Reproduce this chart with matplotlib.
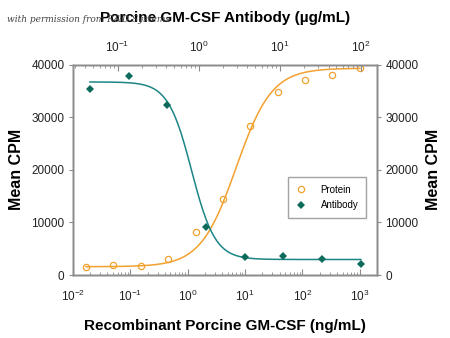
import numpy as np
import matplotlib
matplotlib.use("Agg")
import matplotlib.pyplot as plt

plt.rcParams['font.family'] = ['Liberation Sans Narrow', 'Liberation Sans', 'DejaVu Sans']

# data
protein_conc = [0.0169, 0.0508, 0.152, 0.457, 1.37, 4.12, 12.3, 37.0, 111, 333, 1000]  # ng/mL
protein_cpm = [1570, 1960, 1770, 3030, 8150, 14540, 28300, 34880, 37100, 38040, 39370]

antibody_conc = [0.0457, 0.137, 0.41, 1.23, 3.7, 11.1, 33.3, 100]  # ug/mL
antibody_cpm = [35390, 37910, 32230, 9160, 3470, 3600, 3090, 2030]

# fitted 4PL curves: bottom, top, mid, hill
protein_fit = (1600, 39300, 7.0, 1.4)
antibody_fit = (2970, 36700, 0.82, -3.0)

orange = '#f2a12e'
teal_pt = '#0d6b5c'
teal_ln = '#1c8585'
grey = '#8c8c8c'


def four_pl(x, p):
    bottom, top, mid, hill = p
    return bottom + (top - bottom) / (1 + (mid / x) ** hill)


fig = plt.figure(figsize=(4.5, 3.38), dpi=100)
ax = fig.add_axes([0.162, 0.186, 0.676, 0.623])

# protein on the bottom axis
ax.set_xscale('log')
ax.set_xlim(0.01, 10 ** 3.3)
ax.set_ylim(0, 40000)
xs = np.logspace(np.log10(protein_conc[0]), np.log10(protein_conc[-1]), 200)
ax.plot(xs, four_pl(xs, protein_fit), color=orange, lw=1.1, zorder=2)
ax.plot(protein_conc, protein_cpm, 'o', mfc='none', mec=orange, ms=4.5,
        mew=0.9, label='Protein', zorder=3)

# antibody on the top axis
ax2 = ax.twiny()
ax2.set_xscale('log')
ax2.set_xlim(10 ** -1.55, 10 ** 2.2)
xa = np.logspace(np.log10(antibody_conc[0]), np.log10(antibody_conc[-1]), 200)
ax2.plot(xa, four_pl(xa, antibody_fit), color=teal_ln, lw=1.1, zorder=2)
ax2.plot(antibody_conc, antibody_cpm, 'D', color=teal_pt, ms=4, mew=0,
         label='Antibody', zorder=3)

# right y axis, same scale
ax3 = ax.twinx()
ax3.set_ylim(0, 40000)

yt = [0, 10000, 20000, 30000, 40000]
ax.set_yticks(yt)
ax3.set_yticks(yt)

for a in (ax, ax2, ax3):
    for s in a.spines.values():
        s.set_color(grey)
        s.set_linewidth(1.0)

for a, p in ((ax, 10), (ax2, 7)):
    a.tick_params(axis='x', which='both', direction='in', colors=grey,
                  labelcolor='#222222', labelsize=8.5, pad=p)
    a.tick_params(axis='x', which='major', length=4)
    a.tick_params(axis='x', which='minor', length=2.5)
for a in (ax, ax3):
    a.tick_params(axis='y', direction='out', length=3, colors=grey,
                  labelcolor='#222222', labelsize=8.5, pad=3)

ax.set_xlabel('Recombinant Porcine GM-CSF (ng/mL)', fontsize=11, fontweight='bold',
              labelpad=11)
ax2.set_xlabel('Porcine GM-CSF Antibody (\u00b5g/mL)', fontsize=11, fontweight='bold',
               labelpad=13)
ax.set_ylabel('Mean CPM', fontsize=11.5, fontweight='bold', labelpad=5)
ax3.set_ylabel('Mean CPM', fontsize=11.5, fontweight='bold', labelpad=5)

# one legend for both series
h1, l1 = ax.get_legend_handles_labels()
h2, l2 = ax2.get_legend_handles_labels()
leg = ax2.legend(h1 + h2, l1 + l2, loc='upper left', bbox_to_anchor=(0.69, 0.49),
                 frameon=True, fancybox=False, fontsize=7, handlelength=1.2,
                 handletextpad=1.4, borderpad=0.8, labelspacing=0.6)
leg.get_frame().set_edgecolor(grey)
leg.get_frame().set_linewidth(1.0)

fig.text(0.015, 0.935, 'with permission from R&D Systems', fontsize=6.5, style='italic',
         family='DejaVu Serif', color='#444444', zorder=0)

fig.savefig('out.png', dpi=100)
